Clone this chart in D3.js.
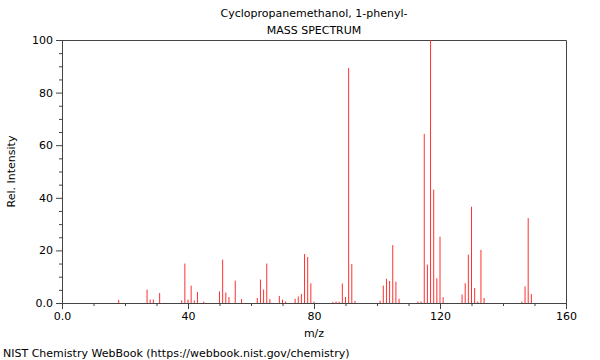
<!DOCTYPE html>
<html>
<head>
<meta charset="utf-8">
<script src="https://cdn.jsdelivr.net/npm/d3@7"></script>
<style>
body { margin: 0; background: #fff; }
text { font-family: "DejaVu Sans", sans-serif; fill: #000; }
</style>
</head>
<body>
<div id="vis"></div>
<script>
// peaks
var mz = [18, 27, 28, 29, 31, 38, 39, 40, 41, 42, 43, 45, 50, 51, 52, 53, 55, 57,
  62, 63, 64, 65, 66, 69, 70, 71, 74, 75, 76, 77, 78, 79, 80,
  86, 87, 88, 89, 90, 91, 92, 93, 101, 102, 103, 104, 105, 106, 107,
  113, 114, 115, 116, 117, 118, 119, 120, 121,
  127, 128, 129, 130, 131, 132, 133, 134, 146, 147, 148, 149];
var intensity = [1.2, 5.1, 1.3, 1.3, 3.8, 1.0, 15.0, 1.3, 6.6, 1.0, 4.2, 0.5, 4.4, 16.5, 4.0, 2.3, 8.5, 1.5,
  1.9, 8.9, 5.1, 15.0, 1.5, 2.7, 1.3, 0.6, 1.6, 2.5, 3.4, 18.6, 17.5, 7.5, 0.5,
  0.4, 0.6, 0.5, 7.4, 2.3, 89.4, 14.8, 0.8, 0.9, 6.6, 9.2, 8.4, 22.0, 8.1, 1.6,
  0.5, 0.6, 64.3, 14.6, 100, 43.1, 9.4, 25.2, 2.2,
  3.2, 7.5, 18.4, 36.6, 5.7, 0.6, 20.2, 1.9, 0.5, 6.3, 32.3, 3.4];

var xMajor = [0, 40, 80, 120, 160];
var xMinor = [10, 20, 30, 50, 60, 70, 90, 100, 110, 130, 140, 150];
var yMajor = [0, 20, 40, 60, 80, 100];
var yMinor = [5, 10, 15, 25, 30, 35, 45, 50, 55, 65, 70, 75, 85, 90, 95];

var w = 600;
var h = 360;
var plotL = 62, plotR = 566, plotT = 40, plotB = 303;
var axisColor = "#444";

var svg = d3.select("#vis")
.append("svg")
.attr("width", w)
.attr("height", h);

var x = d3.scaleLinear()
.domain([0, 160])
.range([plotL, plotR]);

var y = d3.scaleLinear()
.domain([0, 100])
.range([plotB, plotT]);

var fmt = d => d === 0 ? "0.0" : d;

// frame top and right
svg.append("path")
.attr("d", `M${plotL},${plotT + 0.5}H${plotR + 0.5}V${plotB}`)
.attr("fill", "none")
.attr("stroke", axisColor);

// peaks
svg.append("g")
.selectAll("line")
.data(mz)
.enter()
.append("line")
.attr("x1", d => x(d))
.attr("x2", d => x(d))
.attr("y1", y(0))
.attr("y2", (d, i) => y(intensity[i]))
.attr("stroke", "#ff3030")
.attr("stroke-width", 1);

// x axis
svg.append("g")
.attr("transform", `translate(0, ${plotB})`)
.call(d3.axisBottom(x).tickValues(xMajor).tickFormat(fmt).tickSize(6).tickSizeOuter(0));
svg.append("g")
.attr("transform", `translate(0, ${plotB})`)
.call(d3.axisBottom(x).tickValues(xMinor).tickFormat("").tickSize(3).tickSizeOuter(0))
.select(".domain").remove();

// y axis
svg.append("g")
.attr("transform", `translate(${plotL}, 0)`)
.call(d3.axisLeft(y).tickValues(yMajor).tickFormat(fmt).tickSize(6).tickSizeOuter(0));
svg.append("g")
.attr("transform", `translate(${plotL}, 0)`)
.call(d3.axisLeft(y).tickValues(yMinor).tickFormat("").tickSize(3).tickSizeOuter(0))
.select(".domain").remove();

svg.selectAll(".domain, .tick line").attr("stroke", axisColor);
svg.selectAll(".tick text").style("font-size", "11px").attr("fill", "#000");

// titles
svg.append("text")
.attr("x", (plotL + plotR) / 2).attr("y", 17)
.attr("text-anchor", "middle").style("font-size", "11px")
.text("Cyclopropanemethanol, 1-phenyl-");
svg.append("text")
.attr("x", (plotL + plotR) / 2).attr("y", 34)
.attr("text-anchor", "middle").style("font-size", "11px")
.text("MASS SPECTRUM");

svg.append("text")
.attr("x", (plotL + plotR) / 2).attr("y", 337)
.attr("text-anchor", "middle").style("font-size", "11px")
.text("m/z");

svg.append("text")
.attr("transform", `translate(15, ${(plotT + plotB) / 2}) rotate(-90)`)
.attr("text-anchor", "middle").style("font-size", "11px")
.text("Rel. Intensity");

svg.append("text")
.attr("x", 3).attr("y", 357)
.style("font-size", "11px")
.text("NIST Chemistry WebBook (https://webbook.nist.gov/chemistry)");
</script>
</body>
</html>
